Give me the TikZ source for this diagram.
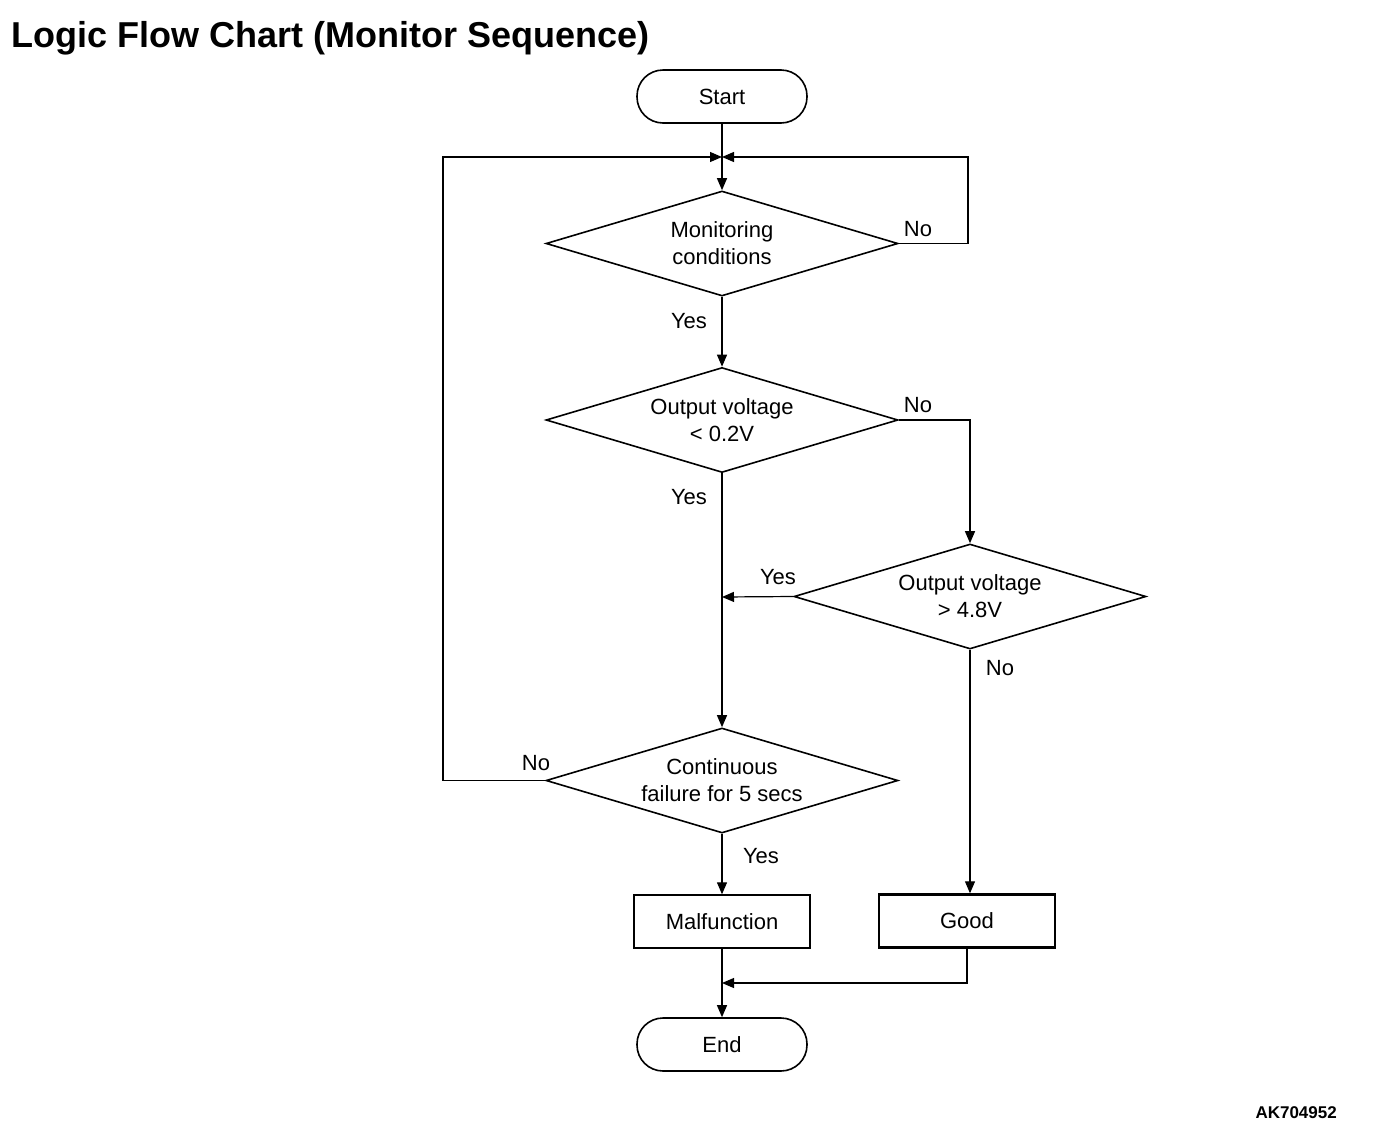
\documentclass[tikz,border=0pt]{standalone}
\usepackage{fontspec}
\setmainfont{Liberation Sans}
\usetikzlibrary{shapes.geometric,arrows.meta}
\begin{document}
\begin{tikzpicture}[x=1pt,y=-1pt,
  every node/.style={font=\fontsize{22}{27}\selectfont, inner sep=0pt},
  term/.style={draw, line width=1.6pt, rounded corners=26pt, minimum width=170pt, minimum height=53pt},
  dec/.style={draw, shape=diamond, aspect=3.35, line width=1.6pt, minimum width=352pt, minimum height=105pt, align=center},
  proc/.style={draw, line width=1.4pt, minimum width=176pt, minimum height=53pt},
  arr/.style={line width=1.2pt, -{Triangle[length=12pt,width=10pt]}},
  lbl/.style={}
]
\useasboundingbox (0,0) rectangle (1376,1138);
\node[anchor=base west, font=\fontsize{36}{40}\selectfont\bfseries] (title) at (11,47) {Logic Flow Chart (Monitor Sequence)};
\node[anchor=base east, font=\fontsize{17}{20}\selectfont\bfseries] (code) at (1337,1118) {AK704952};

\node[term] (start) at (722,96.5) {Start};
\node[dec] (d1) at (722,243.5) {Monitoring\\conditions};
\node[dec] (d2) at (722,420) {Output voltage\\{<} 0.2V};
\node[dec] (d3) at (970,596.5) {Output voltage\\{>} 4.8V};
\node[dec] (d4) at (722,780.5) {Continuous\\failure for 5 secs};
\node[proc] (mal) at (722,921.5) {Malfunction};
\node[proc, line width=2.4pt] (good) at (967,921) {Good};
\node[term] (end) at (722,1044.5) {End};

\coordinate (j) at (722,157);
\coordinate (jr) at (968,157);
\coordinate (jl) at (443,157);
\coordinate (m1) at (722,597);
\coordinate (m2) at (722,983);

\draw[arr] (start) -- (d1);
\draw[arr] (d1.east) -| (jr) -- (j);
\draw[arr] (d4.west) -| (jl) -- (j);
\draw[arr] (d1) -- (d2);
\draw[arr] (d2.east) -| (d3.north);
\draw[arr] (d3.west) -- (m1);
\draw[arr] (d2) -- (d4);
\draw[arr] (d3.south) -- (d3.south |- good.north);
\draw[arr] (d4) -- (mal);
\draw[arr] (mal) -- (end);
\draw[arr] (good.south) |- (m2);

\node[lbl] (l1) at (918,229) {No};
\node[lbl] (l2) at (689,321) {Yes};
\node[lbl] (l3) at (918,405) {No};
\node[lbl] (l4) at (689,497) {Yes};
\node[lbl] (l5) at (778,577) {Yes};
\node[lbl] (l6) at (1000,668) {No};
\node[lbl] (l7) at (536,763) {No};
\node[lbl] (l8) at (761,856) {Yes};
\end{tikzpicture}
\end{document}
